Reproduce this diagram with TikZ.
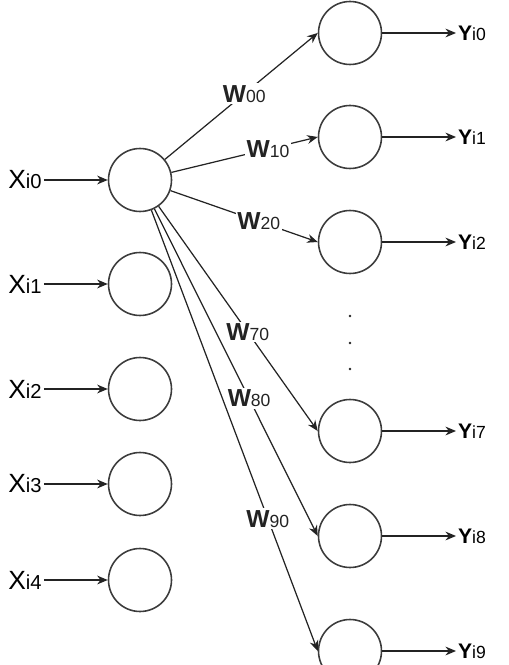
\documentclass[tikz,border=0pt]{standalone}
\usepackage{fontspec}
\setmainfont{Liberation Sans}
\usetikzlibrary{arrows.meta,positioning}
\definecolor{nnline}{RGB}{35,35,35}
\definecolor{nncircle}{RGB}{60,60,60}

\begin{document}
\begin{tikzpicture}[x=0.02cm, y=-0.02cm,
    neuron/.style={circle, draw=nncircle, line width=0.9pt, minimum size=1.26cm, inner sep=0pt},
    conn/.style={-{Stealth[length=6pt, width=5pt]}, nnline, line width=0.7pt},
    weight/.style={fill=white, inner sep=1pt, font=\fontsize{14}{16}\selectfont},
    inlabel/.style={inner sep=1pt, font=\fontsize{15}{18}\selectfont},
    outlabel/.style={anchor=west, inner sep=1pt, font=\fontsize{12}{14}\selectfont}
]
\useasboundingbox (0,0) rectangle (509,665);

% Input column
\foreach \i/\y in {0/180,1/284,2/389,3/484,4/580} {
  \node[inlabel] (xl\i) at (25,\y) {X{\fontsize{11.5}{14}\selectfont i\i}};
  \node[neuron] (x\i) at (140,\y) {};
  \draw[conn] (xl\i) -- (x\i);
}

% Output column
\foreach \j/\y in {0/33,1/137,2/242,7/431,8/536,9/651} {
  \node[neuron] (y\j) at (350,\y) {};
  \node[outlabel] (yl\j) at (456,\y) {\textbf{Y}{\fontsize{10}{12}\selectfont i\j}};
  \draw[conn] (y\j) -- (yl\j);
}

% Dots between y2 and y7
\foreach \y in {316,343,369} \fill[nnline] (350,\y) circle (0.8pt);

% Weights from x0
\foreach \j/\p in {0/0.52,1/0.66,2/0.6,7/0.56,8/0.58,9/0.7} {
  \draw[conn] (x0) -- (y\j.west) node[weight, pos=\p] (w\j) {\textbf{W}{\fontsize{10}{12}\selectfont \j0}};
}

\end{tikzpicture}
\end{document}
